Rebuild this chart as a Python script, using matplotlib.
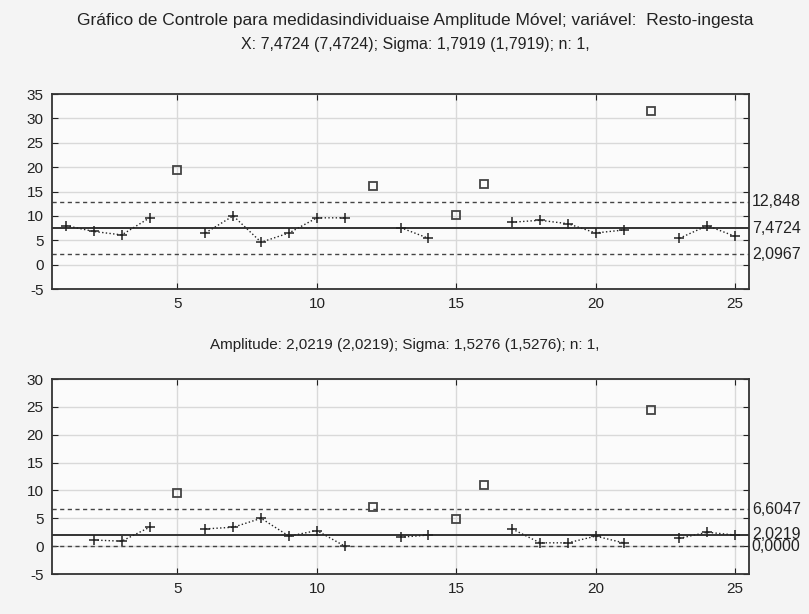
import matplotlib
matplotlib.use("Agg")
import matplotlib.pyplot as plt
import matplotlib.transforms as mtransforms
import numpy as np

plt.rcParams['font.family'] = ['Liberation Sans', 'DejaVu Sans']

# sample numbers
samples = list(range(1, 26))

# individual values (Resto-ingesta)
x_values = [8.0, 6.8, 6.1, 9.6, 19.4, 6.5, 10.0, 4.6, 6.5, 9.6, 9.6, 16.2, 7.6,
            5.4, 10.2, 16.6, 8.7, 9.1, 8.4, 6.5, 7.1, 31.6, 5.4, 8.0, 5.8]

# moving ranges (first sample has none)
mr_values = [np.nan, 1.1, 0.9, 3.4, 9.5, 3.1, 3.4, 5.0, 1.8, 2.8, 0.0, 7.0, 1.6,
             2.0, 4.8, 10.9, 3.1, 0.6, 0.6, 1.8, 0.6, 24.5, 1.4, 2.5, 2.0]

# samples drawn as squares (flagged)
flagged = [5, 12, 15, 16, 22]

# control limits: (UCL, CL, LCL) and their labels
x_limits = [12.848, 7.4724, 2.0967]
x_limit_labels = ['12,848', '7,4724', '2,0967']
mr_limits = [6.6047, 2.0219, 0.0]
mr_limit_labels = ['6,6047', '2,0219', '0,0000']

title_line1 = 'Gráfico de Controle para medidasindividuaise Amplitude Móvel; variável:  Resto-ingesta'
title_line2 = 'X: 7,4724 (7,4724); Sigma: 1,7919 (1,7919); n: 1,'
title_mr = 'Amplitude: 2,0219 (2,0219); Sigma: 1,5276 (1,5276); n: 1,'

fig = plt.figure(figsize=(8.09, 6.14), dpi=100, facecolor='#f4f4f4')
ax1 = fig.add_axes([0.0643, 0.5293, 0.8616, 0.3176])
ax2 = fig.add_axes([0.0643, 0.0651, 0.8616, 0.3176])


def draw_chart(ax, values, limits, labels, ylim, yticks):
    s = np.array(samples)
    v = np.array(values, dtype=float)
    is_flag = np.isin(s, flagged)
    ok = np.where(is_flag, np.nan, v)

    ax.set_facecolor('#fbfbfb')
    # in-control points joined by a dotted line, flagged ones as open squares
    ax.plot(s, ok, linestyle=':', color='#222222', linewidth=1.0,
            marker='+', markersize=7, markeredgewidth=1.1, zorder=3)
    ax.plot(s[is_flag], v[is_flag], linestyle='none', marker='s', markersize=6,
            markerfacecolor='none', markeredgecolor='#444444', markeredgewidth=1.3, zorder=3)

    ucl, cl, lcl = limits
    ax.axhline(cl, color='#333333', linewidth=1.4, zorder=2)
    ax.axhline(ucl, color='#444444', linewidth=1.0, linestyle=(0, (3, 2.5)), zorder=2)
    ax.axhline(lcl, color='#444444', linewidth=1.0, linestyle=(0, (3, 2.5)), zorder=2)

    trans = mtransforms.blended_transform_factory(ax.transAxes, ax.transData)
    for val, lab in zip(limits, labels):
        ax.text(1.004, val, lab, transform=trans, ha='left', va='center',
                fontsize=11.5, color='#222222')

    ax.set_xlim(0.5, 25.5)
    ax.set_ylim(*ylim)
    ax.set_xticks([5, 10, 15, 20, 25])
    ax.set_yticks(yticks)
    ax.set_yticklabels([str(t) for t in yticks])
    ax.grid(True, color='#d9d9d9', linewidth=1.0, zorder=0)
    ax.set_axisbelow(True)
    ax.tick_params(direction='in', top=True, right=True, length=4,
                   labelsize=11, colors='#222222', pad=6)
    for sp in ax.spines.values():
        sp.set_color('#333333')
        sp.set_linewidth(1.3)


draw_chart(ax1, x_values, x_limits, x_limit_labels, (-5, 35), list(range(-5, 36, 5)))
draw_chart(ax2, mr_values, mr_limits, mr_limit_labels, (-5, 30), list(range(-5, 31, 5)))

fig.text(0.513, 1 - 20 / 614, title_line1, ha='center', va='center', fontsize=12.5, color='#222222')
fig.text(0.513, 1 - 45 / 614, title_line2, ha='center', va='center', fontsize=11.5, color='#222222')
fig.text(0.50, 1 - 345 / 614, title_mr, ha='center', va='center', fontsize=11, color='#222222')

fig.savefig('out.png', dpi=100, facecolor=fig.get_facecolor())
